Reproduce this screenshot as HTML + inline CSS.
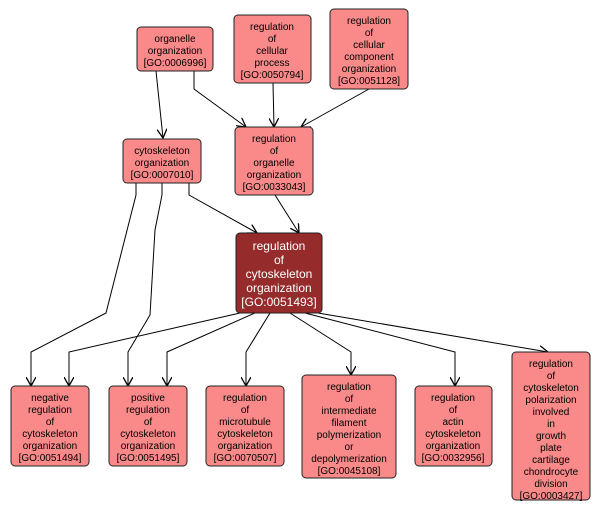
<!DOCTYPE html>
<html><head><meta charset="utf-8"><style>
body{margin:0;background:#fff}
svg{display:block}
text{font-family:"Liberation Sans","DejaVu Sans",sans-serif;font-size:10px;fill:#000;text-anchor:middle}
.w{fill:#fff;font-size:12px}
rect.n{fill:#fa8a8a;stroke:#222;stroke-width:1}
path{fill:none;stroke:#000;stroke-width:1}
</style></head><body>
<svg width="602" height="512" viewBox="0 0 602 512">
<defs><marker id="a" markerWidth="10" markerHeight="10" refX="9" refY="5" orient="auto" markerUnits="userSpaceOnUse"><path d="M0,0 L9,5 L0,10" style="fill:none;stroke:#000;stroke-width:1.3"/></marker></defs>
<g marker-end="url(#a)">
<path d="M156,71 L163,138"/>
<path d="M194,71 L194,89 L246,127"/>
<path d="M273,83 L274,127"/>
<path d="M369,89 L301,127"/>
<path d="M189,183 L189,195 L257,233"/>
<path d="M275,195 L299,233"/>
<path d="M136,183 L136,195 L106,313 L31,352 L31,386"/>
<path d="M162,183 L162,195 L155,230 L150,315 L128,352 L128,386"/>
<path d="M240,313 L69,352 L69,386"/>
<path d="M255,313 L167,352 L167,386"/>
<path d="M270,313 L246,352 L246,386"/>
<path d="M290,313 L351,352 L351,375"/>
<path d="M305,313 L455,352 L455,386"/>
<path d="M318,313 L548,352"/>
</g>
<rect class="n" x="137" y="27" width="76" height="44" rx="4"/>
<text x="175" y="42">organelle</text><text x="175" y="54">organization</text><text x="175" y="66">[GO:0006996]</text>
<rect class="n" x="234" y="15" width="77" height="68" rx="4"/>
<text x="272" y="30">regulation</text><text x="272" y="42">of</text><text x="272" y="54">cellular</text><text x="272" y="66">process</text><text x="272" y="78">[GO:0050794]</text>
<rect class="n" x="330" y="9" width="78" height="80" rx="4"/>
<text x="369" y="24">regulation</text><text x="369" y="36">of</text><text x="369" y="48">cellular</text><text x="369" y="60">component</text><text x="369" y="72">organization</text><text x="369" y="84">[GO:0051128]</text>
<rect class="n" x="123" y="139" width="78" height="44" rx="4"/>
<text x="162" y="154">cytoskeleton</text><text x="162" y="166">organization</text><text x="162" y="178">[GO:0007010]</text>
<rect class="n" x="235" y="127" width="78" height="68" rx="4"/>
<text x="274" y="142">regulation</text><text x="274" y="154">of</text><text x="274" y="166">organelle</text><text x="274" y="178">organization</text><text x="274" y="190">[GO:0033043]</text>
<rect x="236" y="233" width="86" height="80" rx="4" style="fill:#952b2b;stroke:#222"/>
<text class="w" x="279" y="250">regulation</text><text class="w" x="279" y="264">of</text><text class="w" x="279" y="278">cytoskeleton</text><text class="w" x="279" y="292">organization</text><text class="w" x="279" y="306">[GO:0051493]</text>
<rect class="n" x="11" y="386" width="78" height="80" rx="4"/>
<text x="50" y="401">negative</text><text x="50" y="413">regulation</text><text x="50" y="425">of</text><text x="50" y="437">cytoskeleton</text><text x="50" y="449">organization</text><text x="50" y="461">[GO:0051494]</text>
<rect class="n" x="109" y="386" width="78" height="80" rx="4"/>
<text x="148" y="401">positive</text><text x="148" y="413">regulation</text><text x="148" y="425">of</text><text x="148" y="437">cytoskeleton</text><text x="148" y="449">organization</text><text x="148" y="461">[GO:0051495]</text>
<rect class="n" x="206" y="386" width="78" height="80" rx="4"/>
<text x="245" y="401">regulation</text><text x="245" y="413">of</text><text x="245" y="425">microtubule</text><text x="245" y="437">cytoskeleton</text><text x="245" y="449">organization</text><text x="245" y="461">[GO:0070507]</text>
<rect class="n" x="302" y="375" width="94" height="103" rx="4"/>
<text x="349" y="390">regulation</text><text x="349" y="402">of</text><text x="349" y="414">intermediate</text><text x="349" y="426">filament</text><text x="349" y="438">polymerization</text><text x="349" y="450">or</text><text x="349" y="462">depolymerization</text><text x="349" y="474">[GO:0045108]</text>
<rect class="n" x="415" y="386" width="77" height="80" rx="4"/>
<text x="453" y="401">regulation</text><text x="453" y="413">of</text><text x="453" y="425">actin</text><text x="453" y="437">cytoskeleton</text><text x="453" y="449">organization</text><text x="453" y="461">[GO:0032956]</text>
<rect class="n" x="512" y="352" width="78" height="148" rx="4"/>
<text x="551" y="367">regulation</text><text x="551" y="379">of</text><text x="551" y="391">cytoskeleton</text><text x="551" y="403">polarization</text><text x="551" y="415">involved</text><text x="551" y="427">in</text><text x="551" y="439">growth</text><text x="551" y="451">plate</text><text x="551" y="463">cartilage</text><text x="551" y="475">chondrocyte</text><text x="551" y="487">division</text><text x="551" y="499">[GO:0003427]</text>
</svg>
</body></html>
